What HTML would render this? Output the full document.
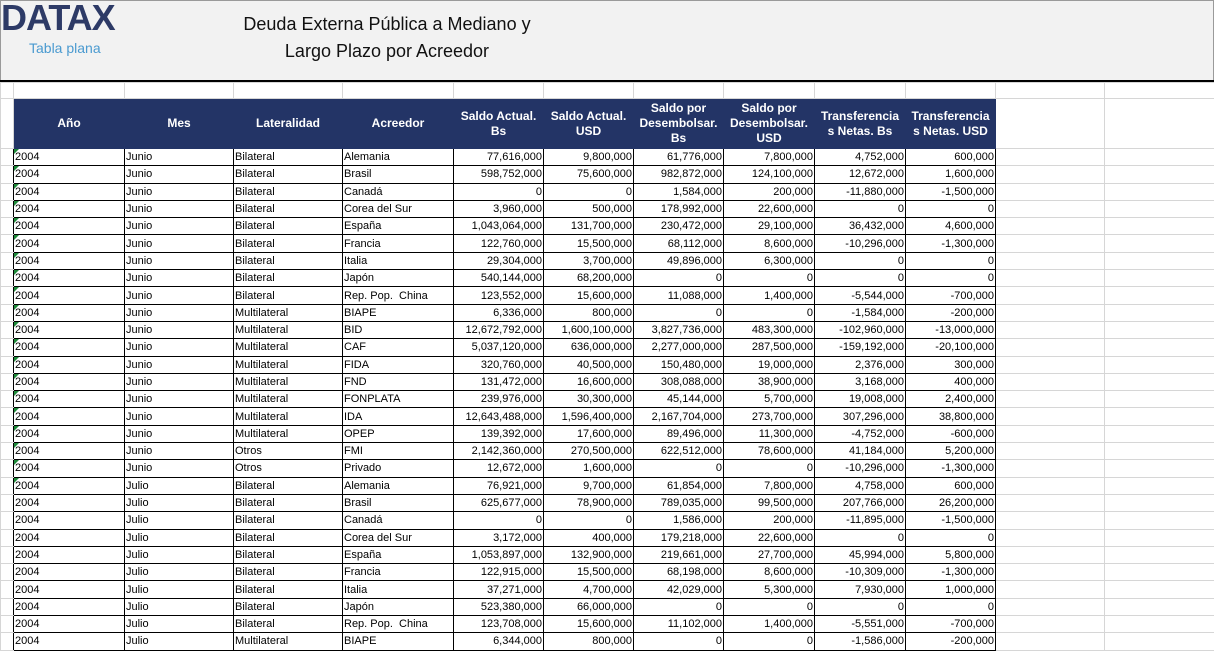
<!DOCTYPE html>
<html><head><meta charset="utf-8">
<style>
body{margin:0;width:1214px;height:651px;overflow:hidden;background:#fff;font-family:"Liberation Sans Narrow","Liberation Sans",sans-serif;}
#top{position:absolute;left:0;top:0;width:1212px;height:80px;background:#f2f2f2;border:1px solid #9a9a9a;border-bottom:none;}
#line{position:absolute;left:0;top:80px;width:1214px;height:2px;background:#000;}
#logo{position:absolute;left:0;top:-4px;font:bold 36px "Liberation Sans",sans-serif;color:#2d3a66;letter-spacing:-1px;}
#sub{position:absolute;left:28px;top:39px;font:14px "Liberation Sans Narrow","Liberation Sans",sans-serif;color:#4a9ad0;}
#title{position:absolute;left:226px;top:10px;width:320px;text-align:center;font:18px "Liberation Sans",sans-serif;line-height:27px;color:#111;}
table{position:absolute;left:0;top:82px;width:1214px;border-collapse:collapse;table-layout:fixed;font-size:11px;}
td{border:1px solid #d6d6d6;padding:0 1px;white-space:nowrap;overflow:hidden;line-height:14px;}
tr.r{height:17.3px;}
td.d{border:1px solid #000;}
td.n{text-align:right;}
td.h{background:#233466;color:#fff;font-weight:bold;text-align:center;font-size:12px;line-height:15px;border:1px solid #233466;white-space:normal;}
td.rh{border-right:1px solid #000;}
td.g{position:relative;}
td.g:before{content:"";position:absolute;left:0;top:0;border-top:5px solid #1e8a3a;border-right:5px solid transparent;}
</style></head><body>
<div id="top"><div id="logo">DATAX</div><div id="sub">Tabla plana</div><div id="title">Deuda Externa Pública a Mediano y<br>Largo Plazo por Acreedor</div></div>
<div id="line"></div>
<table>
<colgroup><col style="width:13px"><col style="width:111px"><col style="width:109px"><col style="width:109px"><col style="width:111px"><col style="width:90px"><col style="width:90px"><col style="width:90px"><col style="width:91px"><col style="width:91px"><col style="width:90px"><col style="width:109px"><col style="width:110px"></colgroup>
<tr style="height:16px"><td></td><td></td><td></td><td></td><td></td><td></td><td></td><td></td><td></td><td></td><td></td><td></td><td></td></tr>
<tr style="height:50px"><td></td><td class="h">Año</td><td class="h">Mes</td><td class="h">Lateralidad</td><td class="h">Acreedor</td><td class="h">Saldo Actual. Bs</td><td class="h">Saldo Actual. USD</td><td class="h">Saldo por Desembolsar. Bs</td><td class="h">Saldo por Desembolsar. USD</td><td class="h">Transferencia s Netas. Bs</td><td class="h">Transferencia s Netas. USD</td><td></td><td></td></tr>
<tr class="r"><td class="rh"></td><td class="d g">2004</td><td class="d">Junio</td><td class="d">Bilateral</td><td class="d">Alemania</td><td class="d n">77,616,000</td><td class="d n">9,800,000</td><td class="d n">61,776,000</td><td class="d n">7,800,000</td><td class="d n">4,752,000</td><td class="d n">600,000</td><td></td><td></td></tr>
<tr class="r"><td class="rh"></td><td class="d g">2004</td><td class="d">Junio</td><td class="d">Bilateral</td><td class="d">Brasil</td><td class="d n">598,752,000</td><td class="d n">75,600,000</td><td class="d n">982,872,000</td><td class="d n">124,100,000</td><td class="d n">12,672,000</td><td class="d n">1,600,000</td><td></td><td></td></tr>
<tr class="r"><td class="rh"></td><td class="d g">2004</td><td class="d">Junio</td><td class="d">Bilateral</td><td class="d">Canadá</td><td class="d n">0</td><td class="d n">0</td><td class="d n">1,584,000</td><td class="d n">200,000</td><td class="d n">-11,880,000</td><td class="d n">-1,500,000</td><td></td><td></td></tr>
<tr class="r"><td class="rh"></td><td class="d g">2004</td><td class="d">Junio</td><td class="d">Bilateral</td><td class="d">Corea del Sur</td><td class="d n">3,960,000</td><td class="d n">500,000</td><td class="d n">178,992,000</td><td class="d n">22,600,000</td><td class="d n">0</td><td class="d n">0</td><td></td><td></td></tr>
<tr class="r"><td class="rh"></td><td class="d g">2004</td><td class="d">Junio</td><td class="d">Bilateral</td><td class="d">España</td><td class="d n">1,043,064,000</td><td class="d n">131,700,000</td><td class="d n">230,472,000</td><td class="d n">29,100,000</td><td class="d n">36,432,000</td><td class="d n">4,600,000</td><td></td><td></td></tr>
<tr class="r"><td class="rh"></td><td class="d g">2004</td><td class="d">Junio</td><td class="d">Bilateral</td><td class="d">Francia</td><td class="d n">122,760,000</td><td class="d n">15,500,000</td><td class="d n">68,112,000</td><td class="d n">8,600,000</td><td class="d n">-10,296,000</td><td class="d n">-1,300,000</td><td></td><td></td></tr>
<tr class="r"><td class="rh"></td><td class="d g">2004</td><td class="d">Junio</td><td class="d">Bilateral</td><td class="d">Italia</td><td class="d n">29,304,000</td><td class="d n">3,700,000</td><td class="d n">49,896,000</td><td class="d n">6,300,000</td><td class="d n">0</td><td class="d n">0</td><td></td><td></td></tr>
<tr class="r"><td class="rh"></td><td class="d g">2004</td><td class="d">Junio</td><td class="d">Bilateral</td><td class="d">Japón</td><td class="d n">540,144,000</td><td class="d n">68,200,000</td><td class="d n">0</td><td class="d n">0</td><td class="d n">0</td><td class="d n">0</td><td></td><td></td></tr>
<tr class="r"><td class="rh"></td><td class="d g">2004</td><td class="d">Junio</td><td class="d">Bilateral</td><td class="d">Rep. Pop.&nbsp; China</td><td class="d n">123,552,000</td><td class="d n">15,600,000</td><td class="d n">11,088,000</td><td class="d n">1,400,000</td><td class="d n">-5,544,000</td><td class="d n">-700,000</td><td></td><td></td></tr>
<tr class="r"><td class="rh"></td><td class="d g">2004</td><td class="d">Junio</td><td class="d">Multilateral</td><td class="d">BIAPE</td><td class="d n">6,336,000</td><td class="d n">800,000</td><td class="d n">0</td><td class="d n">0</td><td class="d n">-1,584,000</td><td class="d n">-200,000</td><td></td><td></td></tr>
<tr class="r"><td class="rh"></td><td class="d g">2004</td><td class="d">Junio</td><td class="d">Multilateral</td><td class="d">BID</td><td class="d n">12,672,792,000</td><td class="d n">1,600,100,000</td><td class="d n">3,827,736,000</td><td class="d n">483,300,000</td><td class="d n">-102,960,000</td><td class="d n">-13,000,000</td><td></td><td></td></tr>
<tr class="r"><td class="rh"></td><td class="d g">2004</td><td class="d">Junio</td><td class="d">Multilateral</td><td class="d">CAF</td><td class="d n">5,037,120,000</td><td class="d n">636,000,000</td><td class="d n">2,277,000,000</td><td class="d n">287,500,000</td><td class="d n">-159,192,000</td><td class="d n">-20,100,000</td><td></td><td></td></tr>
<tr class="r"><td class="rh"></td><td class="d g">2004</td><td class="d">Junio</td><td class="d">Multilateral</td><td class="d">FIDA</td><td class="d n">320,760,000</td><td class="d n">40,500,000</td><td class="d n">150,480,000</td><td class="d n">19,000,000</td><td class="d n">2,376,000</td><td class="d n">300,000</td><td></td><td></td></tr>
<tr class="r"><td class="rh"></td><td class="d g">2004</td><td class="d">Junio</td><td class="d">Multilateral</td><td class="d">FND</td><td class="d n">131,472,000</td><td class="d n">16,600,000</td><td class="d n">308,088,000</td><td class="d n">38,900,000</td><td class="d n">3,168,000</td><td class="d n">400,000</td><td></td><td></td></tr>
<tr class="r"><td class="rh"></td><td class="d g">2004</td><td class="d">Junio</td><td class="d">Multilateral</td><td class="d">FONPLATA</td><td class="d n">239,976,000</td><td class="d n">30,300,000</td><td class="d n">45,144,000</td><td class="d n">5,700,000</td><td class="d n">19,008,000</td><td class="d n">2,400,000</td><td></td><td></td></tr>
<tr class="r"><td class="rh"></td><td class="d g">2004</td><td class="d">Junio</td><td class="d">Multilateral</td><td class="d">IDA</td><td class="d n">12,643,488,000</td><td class="d n">1,596,400,000</td><td class="d n">2,167,704,000</td><td class="d n">273,700,000</td><td class="d n">307,296,000</td><td class="d n">38,800,000</td><td></td><td></td></tr>
<tr class="r"><td class="rh"></td><td class="d g">2004</td><td class="d">Junio</td><td class="d">Multilateral</td><td class="d">OPEP</td><td class="d n">139,392,000</td><td class="d n">17,600,000</td><td class="d n">89,496,000</td><td class="d n">11,300,000</td><td class="d n">-4,752,000</td><td class="d n">-600,000</td><td></td><td></td></tr>
<tr class="r"><td class="rh"></td><td class="d g">2004</td><td class="d">Junio</td><td class="d">Otros</td><td class="d">FMI</td><td class="d n">2,142,360,000</td><td class="d n">270,500,000</td><td class="d n">622,512,000</td><td class="d n">78,600,000</td><td class="d n">41,184,000</td><td class="d n">5,200,000</td><td></td><td></td></tr>
<tr class="r"><td class="rh"></td><td class="d g">2004</td><td class="d">Junio</td><td class="d">Otros</td><td class="d">Privado</td><td class="d n">12,672,000</td><td class="d n">1,600,000</td><td class="d n">0</td><td class="d n">0</td><td class="d n">-10,296,000</td><td class="d n">-1,300,000</td><td></td><td></td></tr>
<tr class="r"><td class="rh"></td><td class="d g">2004</td><td class="d">Julio</td><td class="d">Bilateral</td><td class="d">Alemania</td><td class="d n">76,921,000</td><td class="d n">9,700,000</td><td class="d n">61,854,000</td><td class="d n">7,800,000</td><td class="d n">4,758,000</td><td class="d n">600,000</td><td></td><td></td></tr>
<tr class="r"><td class="rh"></td><td class="d">2004</td><td class="d">Julio</td><td class="d">Bilateral</td><td class="d">Brasil</td><td class="d n">625,677,000</td><td class="d n">78,900,000</td><td class="d n">789,035,000</td><td class="d n">99,500,000</td><td class="d n">207,766,000</td><td class="d n">26,200,000</td><td></td><td></td></tr>
<tr class="r"><td class="rh"></td><td class="d">2004</td><td class="d">Julio</td><td class="d">Bilateral</td><td class="d">Canadá</td><td class="d n">0</td><td class="d n">0</td><td class="d n">1,586,000</td><td class="d n">200,000</td><td class="d n">-11,895,000</td><td class="d n">-1,500,000</td><td></td><td></td></tr>
<tr class="r"><td class="rh"></td><td class="d">2004</td><td class="d">Julio</td><td class="d">Bilateral</td><td class="d">Corea del Sur</td><td class="d n">3,172,000</td><td class="d n">400,000</td><td class="d n">179,218,000</td><td class="d n">22,600,000</td><td class="d n">0</td><td class="d n">0</td><td></td><td></td></tr>
<tr class="r"><td class="rh"></td><td class="d">2004</td><td class="d">Julio</td><td class="d">Bilateral</td><td class="d">España</td><td class="d n">1,053,897,000</td><td class="d n">132,900,000</td><td class="d n">219,661,000</td><td class="d n">27,700,000</td><td class="d n">45,994,000</td><td class="d n">5,800,000</td><td></td><td></td></tr>
<tr class="r"><td class="rh"></td><td class="d">2004</td><td class="d">Julio</td><td class="d">Bilateral</td><td class="d">Francia</td><td class="d n">122,915,000</td><td class="d n">15,500,000</td><td class="d n">68,198,000</td><td class="d n">8,600,000</td><td class="d n">-10,309,000</td><td class="d n">-1,300,000</td><td></td><td></td></tr>
<tr class="r"><td class="rh"></td><td class="d">2004</td><td class="d">Julio</td><td class="d">Bilateral</td><td class="d">Italia</td><td class="d n">37,271,000</td><td class="d n">4,700,000</td><td class="d n">42,029,000</td><td class="d n">5,300,000</td><td class="d n">7,930,000</td><td class="d n">1,000,000</td><td></td><td></td></tr>
<tr class="r"><td class="rh"></td><td class="d">2004</td><td class="d">Julio</td><td class="d">Bilateral</td><td class="d">Japón</td><td class="d n">523,380,000</td><td class="d n">66,000,000</td><td class="d n">0</td><td class="d n">0</td><td class="d n">0</td><td class="d n">0</td><td></td><td></td></tr>
<tr class="r"><td class="rh"></td><td class="d">2004</td><td class="d">Julio</td><td class="d">Bilateral</td><td class="d">Rep. Pop.&nbsp; China</td><td class="d n">123,708,000</td><td class="d n">15,600,000</td><td class="d n">11,102,000</td><td class="d n">1,400,000</td><td class="d n">-5,551,000</td><td class="d n">-700,000</td><td></td><td></td></tr>
<tr class="r"><td class="rh"></td><td class="d">2004</td><td class="d">Julio</td><td class="d">Multilateral</td><td class="d">BIAPE</td><td class="d n">6,344,000</td><td class="d n">800,000</td><td class="d n">0</td><td class="d n">0</td><td class="d n">-1,586,000</td><td class="d n">-200,000</td><td></td><td></td></tr>
</table>
</body></html>
